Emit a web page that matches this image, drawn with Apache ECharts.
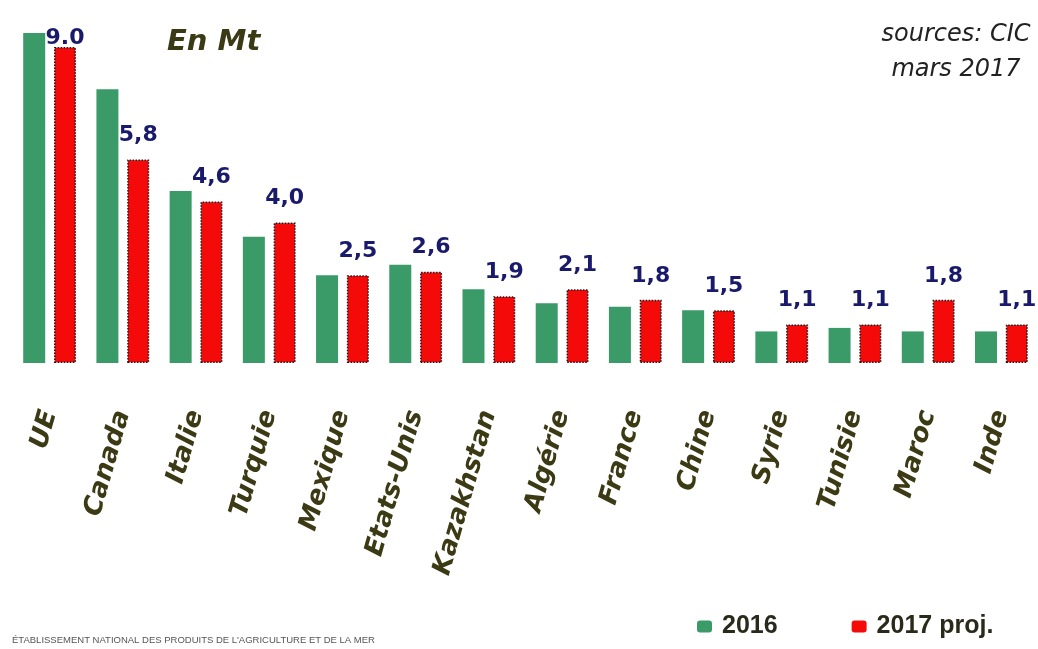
<!DOCTYPE html>
<html>
<head>
<meta charset="utf-8">
<title>Exportateurs de blé dur</title>
<script src="https://cdn.jsdelivr.net/npm/echarts@6/dist/echarts.min.js"></script>
<style>
  html, body { margin: 0; padding: 0; background: #fff; }
  #chart { width: 1038px; height: 649px; }
</style>
</head>
<body>
<div id="chart"></div>
<script>
// données (en Mt)
const categories = ["UE", "Canada", "Italie", "Turquie", "Mexique", "Etats-Unis", "Kazakhstan",
  "Algérie", "France", "Chine", "Syrie", "Tunisie", "Maroc", "Inde"];
const values2016 = [9.4, 7.8, 4.9, 3.6, 2.5, 2.8, 2.1, 1.7, 1.6, 1.5, 0.9, 1.0, 0.9, 0.9];
const values2017 = [9.0, 5.8, 4.6, 4.0, 2.5, 2.6, 1.9, 2.1, 1.8, 1.5, 1.1, 1.1, 1.8, 1.1];
const labels2017 = ["9.0", "5,8", "4,6", "4,0", "2,5", "2,6", "1,9", "2,1", "1,8", "1,5", "1,1", "1,1", "1,8", "1,1"];

const green = "#3a9a68";
const red = "#f50a0a";

const chart = echarts.init(document.getElementById("chart"));

const option = {
  backgroundColor: "#fff",
  animation: false,
  grid: {
    left: 13,
    right: -6,
    top: 12,
    bottom: 286,
  },
  legend: {
    left: 692,
    top: 609,
    itemWidth: 15,
    itemHeight: 12,
    itemGap: 74,
    icon: "roundRect",
    textStyle: {
      fontFamily: "Liberation Sans",
      fontWeight: "bold",
      fontSize: 25,
      color: "#2a2a1a",
      padding: [0, 0, 0, 5],
    },
    data: [
      { name: "2016" },
      { name: "2017 proj.", itemStyle: { borderWidth: 0 } },
    ],
  },
  xAxis: {
    type: "category",
    data: categories,
    axisLine: { show: false },
    axisTick: { show: false },
    axisLabel: {
      interval: 0,
      rotate: 74,
      margin: 48,
      fontFamily: "DejaVu Sans",
      fontWeight: "bold",
      fontStyle: "italic",
      fontSize: 26,
      color: "#3c3a14",
    },
  },
  yAxis: {
    type: "value",
    min: 0,
    max: 10,
    show: false,
    splitLine: { show: false },
  },
  series: [
    {
      name: "2016",
      type: "bar",
      barWidth: 22,
      barGap: "40%",
      itemStyle: { color: green },
      data: values2016,
    },
    {
      name: "2017 proj.",
      type: "bar",
      barWidth: 22,
      itemStyle: {
        color: red,
        borderColor: "#1a1a1a",
        borderWidth: 1.5,
        borderType: "dotted",
      },
      label: {
        show: true,
        position: "top",
        distance: 13,
        fontFamily: "DejaVu Sans",
        fontWeight: "bold",
        fontSize: 22,
        color: "#1a1a6c",
        formatter: (p) => labels2017[p.dataIndex],
      },
      // le libellé de l'UE colle au sommet de la barre
      data: values2017.map((v, i) => (i === 0 ? { value: v, label: { distance: -2 } } : v)),
    },
  ],
  graphic: [
    {
      type: "text",
      left: 167,
      top: 28,
      style: {
        text: "En Mt",
        fontFamily: "DejaVu Sans",
        fontWeight: "bold",
        fontStyle: "italic",
        fontSize: 29,
        fill: "#3a3a14",
      },
    },
    {
      type: "text",
      x: 956,
      y: 17,
      style: {
        text: "sources: CIC\nmars 2017",
        align: "center",
        fontFamily: "DejaVu Sans",
        fontStyle: "italic",
        fontSize: 24,
        lineHeight: 35,
        fill: "#222",
      },
    },
    {
      type: "text",
      left: 12,
      top: 635,
      style: {
        text: "ÉTABLISSEMENT NATIONAL DES PRODUITS DE L'AGRICULTURE ET DE LA MER",
        fontFamily: "Liberation Sans",
        fontSize: 9.5,
        fill: "#555",
      },
    },
  ],
};

chart.setOption(option);
</script>
</body>
</html>
